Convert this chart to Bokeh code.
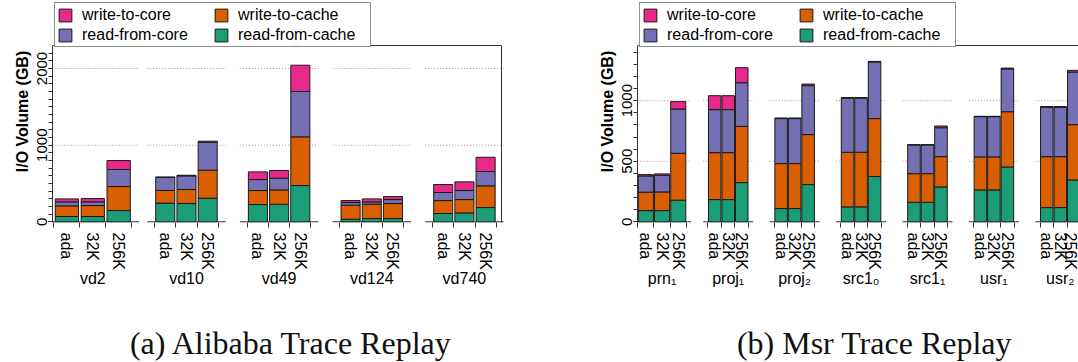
from bokeh.plotting import figure
from bokeh.models import (ColumnDataSource, Range1d, FixedTicker, LinearAxis,
                          Legend, LegendItem)
from bokeh.core.properties import value
from bokeh.layouts import row, column
from bokeh.embed import file_html
from bokeh.resources import INLINE

# ---------------- data ----------------
SERIES = ["read-from-cache", "write-to-cache", "read-from-core", "write-to-core"]
COLORS = ["#1B9E77", "#D95F02", "#7570B3", "#E7298A"]
CONFIGS = ["ada", "32K", "256K"]

A_GROUPS = ["vd2", "vd10", "vd49", "vd124", "vd740"]
A_READ_CACHE = [70, 70, 148, 245, 239, 309, 226, 230, 474, 35, 43, 43, 109, 117, 187]
A_WRITE_CACHE = [139, 143, 313, 165, 183, 365, 183, 187, 635, 182, 187, 196, 169, 174, 283]
A_READ_CORE = [52, 48, 222, 170, 178, 365, 143, 153, 591, 35, 31, 52, 105, 118, 187]
A_WRITE_CORE = [39, 43, 117, 5, 8, 13, 100, 100, 343, 26, 39, 39, 104, 113, 186]
A_YTICKS = [0, 1000, 2000]
A_CAPTION = "(a) Alibaba Trace Replay"

B_GROUPS = ["prn\u2081", "proj\u2081", "proj\u2082", "src1\u2080", "src1\u2081", "usr\u2081", "usr\u2082"]
B_READ_CACHE = [93, 93, 179, 184, 184, 324, 110, 110, 308, 124, 124, 374, 162, 162, 288,
                264, 264, 453, 118, 118, 346]
B_WRITE_CACHE = [152, 154, 387, 387, 387, 464, 371, 371, 412, 450, 450, 478, 236, 236, 250,
                 272, 272, 456, 420, 420, 456]
B_READ_CORE = [134, 138, 365, 355, 355, 360, 371, 371, 404, 448, 448, 467, 237, 237, 239,
               332, 332, 352, 407, 407, 434]
B_WRITE_CORE = [11, 11, 61, 115, 115, 124, 5, 5, 13, 3, 3, 5, 2, 2, 14, 3, 3, 8, 6, 6, 14]
B_YTICKS = [0, 500, 1000]
B_CAPTION = "(b) Msr Trace Replay"

SANS = "Liberation Sans"
SERIF = "Liberation Serif"
AXC = "#333333"
EXT = 0.35
FIG_H = 322        # chart height; caption strip below
CAP_H = 40
FRAME_H = 222      # frame pixels (legend area + plotting box)
BOX_H = 177        # plotting box pixels below the legend strip


def build(groups, rc, wc, rco, wco, yticks, y_start, y_top, minor_top,
          first_start, first_pitch, first_gap, gap, bar_frac, pitch_px,
          width, mb_left, box_w, right_border):
    n = len(groups)
    starts, pitches = [], []
    s = first_start
    for g in range(n):
        pitch = first_pitch if g == 0 else 1.0
        starts.append(s)
        pitches.append(pitch)
        s += 3 * pitch + (first_gap if g == 0 else gap)

    xs, ws, bounds = [], [], []
    sub_over = {}
    for g in range(n):
        for j, c in enumerate(CONFIGS):
            xv = round(starts[g] + (j + 0.5) * pitches[g], 4)
            xs.append(xv)
            ws.append(pitches[g] * bar_frac)
            sub_over[xv] = c
        for k in range(4):
            bounds.append(round(starts[g] + k * pitches[g], 4))
    centers = [round(starts[g] + 1.5 * pitches[g], 4) for g in range(n)]
    grp_over = {centers[g]: groups[g] for g in range(n)}
    seg_x0 = [max(0.0, starts[g] - EXT) for g in range(n)]
    seg_x1 = [starts[g] + 3 * pitches[g] + EXT for g in range(n)]

    x_end = (width - mb_left) / pitch_px
    x_box = box_w / pitch_px
    y_end = y_start + (y_top - y_start) * FRAME_H / BOX_H

    p = figure(width=width, height=FIG_H, x_range=Range1d(0, x_end),
               y_range=Range1d(y_start, y_end), x_axis_type=None, y_axis_type=None,
               toolbar_location=None, output_backend="svg", title=None,
               min_border_left=mb_left, min_border_right=0,
               min_border_top=0, min_border_bottom=FIG_H - FRAME_H)
    p.outline_line_color = None
    p.background_fill_color = "white"
    p.border_fill_color = "white"

    # dotted grid segments per group
    gx0, gx1, gy = [], [], []
    for yv in yticks[1:]:
        for g in range(n):
            gx0.append(seg_x0[g])
            gx1.append(seg_x1[g])
            gy.append(yv)
    p.segment(x0=gx0, y0=gy, x1=gx1, y1=gy, line_color="#9a9a9a",
              line_dash="1 2", line_width=1)
    # per-group axis base lines
    p.segment(x0=seg_x0, y0=[0] * n, x1=seg_x1, y1=[0] * n,
              line_color=AXC, line_width=1.2)
    # box: top edge (and right edge)
    p.segment(x0=[0], y0=[y_top], x1=[x_end if not right_border else x_box], y1=[y_top],
              line_color=AXC, line_width=1)
    if right_border:
        p.segment(x0=[x_box], y0=[y_start], x1=[x_box], y1=[y_top],
                  line_color=AXC, line_width=1)

    src = ColumnDataSource(dict(x=xs, w=ws, rc=rc, wc=wc, rco=rco, wco=wco))
    rs = p.vbar_stack(["rc", "wc", "rco", "wco"], x="x", width="w",
                      fill_color=COLORS, line_color="#1a1a1a", line_width=1,
                      source=src)

    # y axis
    yax = LinearAxis(ticker=FixedTicker(ticks=yticks,
                                        minor_ticks=list(range(0, minor_top + 1, 100))),
                     bounds=(y_start, y_top),
                     axis_label="I/O Volume (GB)",
                     axis_label_text_font=SANS, axis_label_text_font_size="16px",
                     axis_label_text_font_style="bold", axis_label_standoff=4,
                     axis_label_text_color="black",
                     major_label_orientation="vertical",
                     major_label_text_font=SANS, major_label_text_font_size="15px",
                     major_label_text_color="black",
                     major_label_standoff=1,
                     axis_line_color=AXC, major_tick_line_color=AXC,
                     minor_tick_line_color=AXC,
                     major_tick_out=4, major_tick_in=0, minor_tick_out=4, minor_tick_in=0)
    p.add_layout(yax, "left")

    # sub labels (ada / 32K / 256K) with ticks at bar boundaries
    xax = LinearAxis(ticker=FixedTicker(ticks=xs, minor_ticks=bounds),
                     major_label_overrides=sub_over,
                     major_label_orientation="vertical",
                     major_label_text_font=SANS, major_label_text_font_size="16px",
                     major_label_text_color="black",
                     major_label_standoff=5,
                     axis_line_color=None, major_tick_line_color=None,
                     major_tick_out=5, major_tick_in=0,
                     minor_tick_line_color=AXC, minor_tick_out=5, minor_tick_in=0)
    p.add_layout(xax, "below")

    # group names
    gax = LinearAxis(ticker=FixedTicker(ticks=centers, minor_ticks=[]),
                     major_label_overrides=grp_over,
                     major_label_text_font=SANS, major_label_text_font_size="16px",
                     major_label_text_color="black",
                     major_label_standoff=-3,
                     axis_line_color=None, major_tick_line_color=None,
                     major_tick_out=0, major_tick_in=0,
                     minor_tick_out=0, minor_tick_in=0)
    p.add_layout(gax, "below")

    order = [3, 2, 1, 0]
    items = [LegendItem(label=SERIES[i], renderers=[rs[i]]) for i in order]
    leg = Legend(items=items, orientation="vertical", nrows=2,
                 location="top_left", margin=2, padding=2, spacing=1,
                 label_height=19, glyph_height=16, glyph_width=16,
                 label_standoff=9, label_width=130,
                 border_line_color="#222222", border_line_width=1,
                 background_fill_color="white", background_fill_alpha=1.0,
                 label_text_font=SANS, label_text_font_size="16px",
                 label_text_color="black")
    p.add_layout(leg, "center")
    return p


def caption_strip(width, text, center_x):
    c = figure(width=width, height=CAP_H, x_range=Range1d(0, width),
               y_range=Range1d(0, CAP_H), x_axis_type=None, y_axis_type=None,
               toolbar_location=None, output_backend="svg", title=None,
               min_border=0)
    c.outline_line_color = None
    c.background_fill_color = "white"
    c.border_fill_color = "white"
    c.text(x=[center_x], y=[CAP_H - 20], text=[text], text_align="center",
           text_baseline="middle", text_font=value(SERIF), text_font_size="32px",
           text_color="#111111")
    return c


left = build(A_GROUPS, A_READ_CACHE, A_WRITE_CACHE, A_READ_CORE, A_WRITE_CORE,
             A_YTICKS, -8, 2300, 2200,
             0.07, 1.22, 1.09, 1.37, 0.9, 21.2,
             540, 52, 449, True)
right = build(B_GROUPS, B_READ_CACHE, B_WRITE_CACHE, B_READ_CORE, B_WRITE_CORE,
              B_YTICKS, -5, 1455, 1400,
              0.02, 1.2, 1.6, 1.92, 0.93, 13.5,
              538, 97, 441, False)
cap_a = caption_strip(540, A_CAPTION, 291)
cap_b = caption_strip(538, B_CAPTION, 874 - 540)

page = column(row(left, right), row(cap_a, cap_b))
open("out.html", "w").write(file_html(page, INLINE))
